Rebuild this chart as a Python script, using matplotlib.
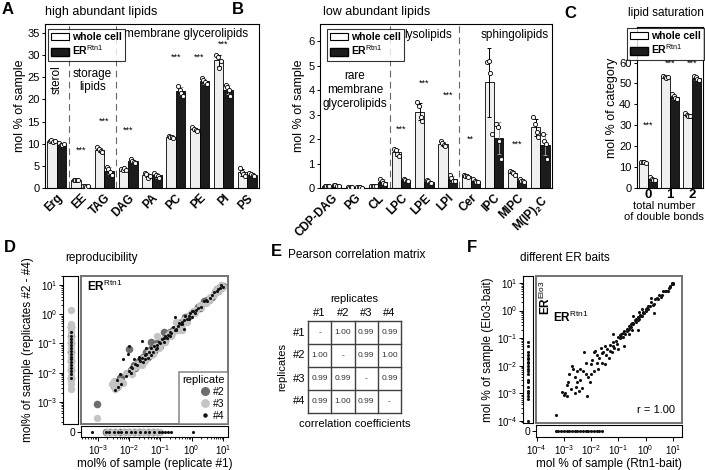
import numpy as np
import matplotlib
matplotlib.use('Agg')
import matplotlib.pyplot as plt
from matplotlib.patches import Patch
from matplotlib.lines import Line2D

plt.rcParams['font.family'] = ['Liberation Sans', 'DejaVu Sans']
plt.rcParams['mathtext.fontset'] = 'custom'
plt.rcParams['mathtext.rm'] = 'Liberation Sans'
plt.rcParams['mathtext.bf'] = 'Liberation Sans:bold'
plt.rcParams['axes.linewidth'] = 0.8
plt.rcParams['xtick.major.width'] = 0.7
plt.rcParams['ytick.major.width'] = 0.7

# ---------------- data ----------------
# A: high abundant lipids (4 replicates each, mol % of sample)
cats_a = ['Erg', 'EE', 'TAG', 'DAG', 'PA', 'PC', 'PE', 'PI', 'PS']
whole_a = [[10.6, 10.8, 10.3, 10.5], [1.9, 1.8, 1.7, 1.8], [9.3, 8.7, 8.3, 8.2],
           [4.3, 4.1, 4.4, 4.0], [3.4, 3.2, 2.2, 2.8], [11.8, 11.6, 11.4, 11.3],
           [13.7, 13.3, 13.0, 12.9], [30.0, 29.5, 27.0, 28.7], [4.5, 3.6, 3.2, 2.8]]
er_a = [[10.2, 9.8, 9.6, 9.9], [0.5, 0.4, 0.3, 0.4], [4.8, 4.2, 3.5, 3.0],
        [6.5, 6.2, 5.8, 5.6], [3.4, 3.0, 2.6, 2.3], [23.0, 22.2, 21.5, 20.8],
        [24.8, 24.3, 23.9, 23.4], [23.2, 22.8, 22.0, 20.8], [3.4, 3.2, 2.9, 2.6]]
stars_a = [(1, 8.5, '***'), (2, 15.0, '***'), (3, 13.0, '***'), (5, 29.5, '***'),
           (6, 29.5, '***'), (7, 32.5, '***')]

# B: low abundant lipids
cats_b = ['CDP-DAG', 'PG', 'CL', 'LPC', 'LPE', 'LPI', 'Cer', 'IPC', 'MIPC', r'M(IP)$_\mathbf{2}$C']
whole_b = [[0.10, 0.08, 0.09, 0.07], [0.03, 0.02, 0.03, 0.03], [0.10, 0.08, 0.07, 0.09],
           [1.6, 1.55, 1.4, 1.3], [3.5, 3.35, 2.9, 2.75], [1.9, 1.85, 1.75, 1.7],
           [0.52, 0.50, 0.48, 0.45], [5.15, 5.2, 4.7, 2.2], [0.70, 0.65, 0.60, 0.55],
           [2.9, 2.6, 2.3, 2.1]]
er_b = [[0.13, 0.11, 0.10, 0.08], [0.04, 0.03, 0.03, 0.02], [0.38, 0.30, 0.20, 0.15],
        [0.35, 0.33, 0.30, 0.30], [0.32, 0.27, 0.22, 0.20], [0.55, 0.40, 0.30, 0.28],
        [0.38, 0.30, 0.25, 0.25], [2.6, 2.5, 1.9, 1.2], [0.35, 0.30, 0.27, 0.25],
        [2.2, 1.9, 1.8, 1.2]]
stars_b = [(3, 2.4, '***'), (4, 4.3, '***'), (5, 3.8, '***'), (6, 2.0, '**'), (8, 1.8, '***')]

# C: lipid saturation
cats_c = ['0', '1', '2']
whole_c = [[12.6, 12.2, 12.5, 12.0], [53.8, 53.2, 52.5, 53.0], [35.8, 35.0, 34.6, 34.5]]
er_c = [[5.2, 4.5, 3.6, 3.8], [45.0, 43.8, 43.0, 42.5], [53.8, 53.0, 52.2, 51.8]]
stars_c = [(0, 30.0, '***'), (1, 59.5, '***'), (2, 59.5, '***')]

# D: reproducibility, log10 values (replicate #1, replicate #n)
rep2 = [(-3.03, -3.08), (-2.5, -2.45), (-2.45, -2.35), (-2.4, -2.5), (-2.35, -2.3), (-2.3, -2.2),
        (-2.25, -2.15), (-2.0, -1.18), (-1.95, -1.9), (-1.85, -1.75), (-1.8, -1.85), (-1.75, -1.7),
        (-1.7, -1.6), (-1.65, -1.7), (-1.6, -1.55), (-1.55, -1.45), (-1.5, -1.45), (-1.45, -1.3),
        (-1.4, -1.45), (-1.35, -1.4), (-1.3, -1.2), (-1.3, -0.95), (-1.25, -1.15), (-1.2, -1.25),
        (-1.15, -1.1), (-1.1, -1.0), (-1.0, -1.1), (-0.95, -0.9), (-0.9, -0.85), (-0.9, -0.6),
        (-0.85, -0.9), (-0.8, -0.75), (-0.7, -0.6), (-0.65, -0.7), (-0.6, -0.55), (-0.5, -0.5),
        (-0.45, -0.4), (-0.4, -0.3), (-0.35, -0.4), (-0.3, -0.25), (-0.2, -0.1), (-0.15, -0.1),
        (-0.1, -0.05), (0.0, 0.05), (0.1, 0.1), (0.2, 0.25), (0.25, 0.2), (0.4, 0.45), (0.5, 0.5),
        (0.55, 0.5), (0.65, 0.6), (0.75, 0.75), (0.8, 0.85), (0.85, 0.8), (0.9, 0.95), (0.95, 0.9),
        (1.0, 0.98)]
rep3 = [(-3.03, -3.54), (-2.55, -2.4), (-2.5, -2.3), (-2.45, -2.55), (-2.35, -2.45), (-2.3, -2.3),
        (-2.2, -2.35), (-2.1, -2.0), (-1.95, -1.95), (-1.9, -2.05), (-1.8, -1.8), (-1.75, -1.7),
        (-1.65, -1.65), (-1.6, -1.75), (-1.55, -1.5), (-1.5, -1.6), (-1.45, -1.5), (-1.35, -1.3),
        (-1.3, -1.4), (-1.25, -1.35), (-1.2, -1.2), (-1.15, -1.1), (-1.1, -0.75), (-1.05, -1.15),
        (-1.0, -1.05), (-0.95, -0.9), (-0.9, -0.85), (-0.85, -0.95), (-0.75, -0.7), (-0.7, -0.65),
        (-0.65, -0.75), (-0.6, -0.6), (-0.55, -0.5), (-0.5, -0.25), (-0.45, -0.55), (-0.4, -0.35),
        (-0.35, -0.4), (-0.3, -0.55), (-0.25, -0.2), (-0.2, -0.15), (-0.15, -0.25), (-0.05, 0.0),
        (0.0, -2.3), (0.05, 0.1), (0.1, 0.05), (0.15, 0.15), (0.25, 0.3), (0.3, 0.25), (0.45, 0.4),
        (0.55, 0.5), (0.6, 0.6), (0.7, 0.65), (0.75, 0.8), (0.8, 0.85), (0.85, 0.8), (0.9, 0.85),
        (0.95, 1.0), (1.0, 0.95)]
rep4 = [(-2.45, -2.6), (-2.4, -2.25), (-2.35, -2.5), (-2.3, -2.05), (-2.25, -2.4), (-2.2, -1.55),
        (-2.1, -2.1), (-2.05, -1.35), (-2.0, -1.95), (-2.0, -1.1), (-1.95, -1.8), (-1.95, -2.0),
        (-1.9, -1.85), (-1.85, -1.55), (-1.8, -1.7), (-1.75, -1.75), (-1.7, -1.45), (-1.7, -1.55),
        (-1.65, -1.6), (-1.6, -1.5), (-1.6, -0.9), (-1.55, -1.65), (-1.5, -1.4), (-1.5, -1.55),
        (-1.45, -1.35), (-1.45, -1.15), (-1.4, -1.5), (-1.35, -1.3), (-1.3, -1.15), (-1.3, -1.4),
        (-1.25, -1.3), (-1.2, -1.1), (-1.15, -1.2), (-1.1, -1.05), (-1.1, -1.15), (-1.05, -0.95),
        (-1.0, -1.0), (-0.95, -0.85), (-0.9, -0.95), (-0.9, -0.8), (-0.85, -0.75), (-0.8, -0.8),
        (-0.75, -0.7), (-0.7, -0.6), (-0.7, -0.75), (-0.65, -0.65), (-0.6, -0.45), (-0.55, -0.55),
        (-0.55, -0.1), (-0.5, -0.5), (-0.5, -0.55), (-0.45, -0.4), (-0.4, -0.3), (-0.35, -0.35),
        (-0.3, -0.25), (-0.3, -0.35), (-0.25, -0.2), (-0.25, -0.5), (-0.2, -0.05), (-0.15, -0.15),
        (-0.1, -0.05), (-0.1, -0.15), (-0.05, 0.05), (0.0, -0.1), (0.0, 0.1), (0.05, 0.1),
        (0.1, 0.05), (0.15, 0.15), (0.2, 0.2), (0.3, 0.25), (0.4, 0.45), (0.45, 0.5), (0.5, 0.45),
        (0.6, 0.55), (0.65, 0.65), (0.7, 0.75), (0.8, 0.8), (0.85, 0.85), (0.9, 0.9), (0.95, 1.0),
        (1.0, 0.95)]
strip2_y = [-0.45, -0.75, -1.0, -1.3, -1.6, -1.9, -2.2]
strip3_y = [0.15, -0.35, -0.45, -0.55, -0.65, -0.8, -0.9, -1.05, -1.2, -1.35, -1.5, -1.65,
            -1.8, -1.95, -2.1, -2.25, -2.4, -2.55]
strip4_y = [-0.6, -0.75, -0.85, -0.95, -1.05, -1.15, -1.25, -1.35, -1.45, -1.55, -1.65,
            -1.75, -1.85, -1.95, -2.05, -2.2]
bstrip2_x = [-2.75, -2.6, -2.45, -2.3, -2.15, -2.0, -1.85, -1.7, -1.55, -1.4, -1.25, -1.1]
bstrip3_x = [-2.7, -2.55, -2.4, -2.2, -2.05, -1.9, -1.75, -1.6, -1.45, -1.3, -1.15, -1.0]
bstrip4_x = [-3.2, -2.75, -2.65, -2.5, -2.35, -2.25, -2.1, -1.95, -1.8, -1.65, -1.5, -1.35,
             -1.2, -1.05, -0.95, -0.85, -0.75, -0.65, 0.05]

# E: Pearson correlation matrix
rep_labels = ['#1', '#2', '#3', '#4']
corr = [['-', '1.00', '0.99', '0.99'],
        ['1.00', '-', '0.99', '1.00'],
        ['0.99', '0.99', '-', '0.99'],
        ['0.99', '1.00', '0.99', '-']]

# F: different ER baits, log10 values (Rtn1-bait, Elo3-bait)
baits = [(-3.3, -3.78), (-3.05, -2.95), (-3.0, -3.05), (-2.95, -3.0), (-2.9, -3.1), (-2.9, -2.7),
         (-2.85, -2.6), (-2.8, -2.3), (-2.75, -2.85), (-2.7, -2.0), (-2.65, -2.1), (-2.6, -3.0),
         (-2.6, -2.4), (-2.55, -2.75), (-2.5, -2.6), (-2.5, -2.2), (-2.45, -2.9), (-2.4, -2.5),
         (-2.4, -2.1), (-2.35, -2.8), (-2.3, -2.2), (-2.25, -1.5), (-2.2, -2.3), (-2.2, -1.9),
         (-2.15, -3.1), (-2.1, -2.4), (-2.05, -2.6), (-2.0, -1.95), (-2.0, -2.3), (-1.95, -1.8),
         (-1.9, -2.2), (-1.9, -1.5), (-1.85, -1.45), (-1.8, -1.9), (-1.8, -1.6), (-1.75, -2.1),
         (-1.7, -1.7), (-1.65, -1.35), (-1.6, -1.9), (-1.6, -1.55), (-1.55, -1.5), (-1.5, -1.95),
         (-1.5, -1.3), (-1.45, -1.6), (-1.4, -1.4), (-1.35, -1.7), (-1.3, -1.25), (-1.3, -1.45),
         (-1.25, -1.5), (-1.2, -1.15), (-1.2, -1.3), (-1.2, -0.85), (-1.15, -1.35), (-1.1, -1.1),
         (-1.05, -1.2), (-1.0, -0.95), (-1.0, -1.4), (-0.95, -1.0), (-0.95, -0.9), (-0.9, -0.85),
         (-0.9, -0.95), (-0.85, -0.95), (-0.85, -0.8), (-0.8, -0.75), (-0.8, -1.3), (-0.75, -0.85),
         (-0.7, -0.65), (-0.7, -0.75), (-0.65, -0.7), (-0.6, -0.55), (-0.6, -0.65), (-0.6, -0.85),
         (-0.55, -0.6), (-0.55, -0.5), (-0.5, -0.45), (-0.5, -0.7), (-0.45, -0.5), (-0.45, -0.45),
         (-0.45, -0.2), (-0.4, -0.35), (-0.35, -0.4), (-0.35, -0.3), (-0.3, -0.25), (-0.3, -0.35),
         (-0.3, -0.7), (-0.25, -0.3), (-0.25, -0.05), (-0.2, -0.15), (-0.2, -0.2), (-0.15, -0.2),
         (-0.15, 0.05), (-0.1, -0.05), (-0.1, -0.1), (-0.05, -0.1), (0.0, 0.0), (0.0, 0.05),
         (0.05, 0.1), (0.1, 0.05), (0.1, 0.15), (0.15, 0.15), (0.2, 0.3), (0.2, 0.45), (0.25, 0.2),
         (0.3, 0.25), (0.3, -0.1), (0.35, 0.4), (0.4, 0.45), (0.45, 0.4), (0.5, 0.55), (0.55, 0.5),
         (0.6, 0.55), (0.65, 0.7), (0.7, 0.7), (0.75, 0.7), (0.8, 0.7), (0.85, 0.8), (0.9, 0.9),
         (0.9, 0.85), (0.95, 0.95), (0.95, 1.0), (1.0, 1.0), (1.0, 0.95)]
fstrip_y = [-1.15, -1.3, -1.5, -1.6, -1.7, -1.75, -1.85, -1.9, -2.0, -2.1, -2.2, -2.3, -2.5,
            -2.6, -2.75, -2.9, -3.0, -3.1, -3.2, -4.0]
fbstrip_x = [-3.3, -3.2, -3.1, -3.0, -2.9, -2.8, -2.7, -2.6, -2.5, -2.4, -2.3, -2.2, -2.1,
             -2.0, -1.9, -1.8, -1.7, -1.6]

# ---------------- figure ----------------
W, H = 705, 470
fig = plt.figure(figsize=(W / 100, H / 100), dpi=100)


def px_axes(x0, y0, x1, y1):
    return fig.add_axes([x0 / W, 1 - y1 / H, (x1 - x0) / W, (y1 - y0) / H])


def ftext(x, y, s, **kw):
    fig.text(x / W, 1 - y / H, s, **kw)


ER_RTN = r'ER$^{\mathrm{Rtn1}}$'
WHOLE_C = '#efefef'
ER_C = '#1c1c1c'
TITLE_FS = 8.5
LAB_FS = 8.5


def bar_panel(ax, cats, whole, er, stars):
    whole = np.array(whole)
    er = np.array(er)
    pos = np.arange(len(cats))
    ax.bar(pos - 0.2, whole.mean(1), 0.4, color=WHOLE_C, edgecolor='k', lw=0.6,
           yerr=whole.std(1, ddof=1), error_kw=dict(ecolor='k', elinewidth=0.7, capsize=1.5, capthick=0.7))
    ax.bar(pos + 0.2, er.mean(1), 0.4, color=ER_C, edgecolor='k', lw=0.6,
           yerr=er.std(1, ddof=1), error_kw=dict(ecolor='0.6', elinewidth=0.7, capsize=1.5, capthick=0.7))
    jit = np.array([-0.1, -0.035, 0.035, 0.1])
    for i in range(len(cats)):
        ax.scatter(pos[i] - 0.2 + jit, whole[i], s=9, facecolor='white', edgecolor='k', lw=0.6, zorder=3)
        ax.scatter(pos[i] + 0.2 + jit, er[i], s=9, facecolor='white', edgecolor='k', lw=0.6, zorder=3)
    for i, y, s in stars:
        ax.text(i, y, s, ha='center', va='center', fontsize=6.5)
    ax.set_xlim(-0.5, len(cats) - 0.5)
    ax.set_xticks(pos)
    ax.set_xticklabels(cats, rotation=45, ha='right', rotation_mode='anchor',
                       fontweight='bold', fontsize=8.5)
    ax.tick_params(axis='x', length=0, pad=3)
    ax.tick_params(axis='y', length=2.5, labelsize=8, pad=1.5)


def bar_legend(ax, x, y):
    handles = [Patch(facecolor='white', edgecolor='k', lw=0.8), Patch(facecolor=ER_C, edgecolor='k')]
    leg = ax.legend(handles, ['whole cell', ER_RTN], loc='upper left',
                    bbox_to_anchor=(x / W, 1 - y / H), bbox_transform=fig.transFigure,
                    prop=dict(weight='bold', size=7.5), fancybox=False, edgecolor='k',
                    borderpad=0.3, handlelength=1.7, handleheight=0.75, labelspacing=0.15,
                    handletextpad=0.3, borderaxespad=0)
    leg.get_frame().set_linewidth(0.8)


# --- A ---
axA = px_axes(45, 24, 259, 188)
bar_panel(axA, cats_a, whole_a, er_a, stars_a)
axA.set_ylim(0, 37)
axA.set_yticks(range(0, 36, 5))
axA.set_ylabel('mol % of sample', fontsize=LAB_FS + 0.5, labelpad=1)
for xd in (0.5, 2.5):
    axA.axvline(xd, color='0.4', lw=0.8, ls=(0, (6, 4)))
axA.text(0.0, 24.4, 'sterol', rotation=90, ha='center', va='center', fontsize=LAB_FS)
axA.text(1.5, 24.3, 'storage\nlipids', ha='center', va='center', fontsize=LAB_FS, linespacing=1.1)
axA.text(5.45, 34.8, 'membrane glycerolipids', ha='center', va='center', fontsize=LAB_FS)
bar_legend(axA, 48, 29)
ftext(45, 12, 'high abundant lipids', fontsize=TITLE_FS + 0.5, va='center')
ftext(2, 10, 'A', fontsize=12, fontweight='bold', va='center')

# --- B ---
axB = px_axes(320, 24, 552, 188)
bar_panel(axB, cats_b, whole_b, er_b, stars_b)
axB.set_ylim(0, 6.7)
axB.set_yticks(range(0, 7))
axB.set_ylabel('mol % of sample', fontsize=LAB_FS + 0.5, labelpad=2)
for xd in (2.5, 5.5):
    axB.axvline(xd, color='0.4', lw=0.8, ls=(0, (6, 4)))
axB.text(1.0, 4.0, 'rare\nmembrane\nglycerolipids', ha='center', va='center', fontsize=LAB_FS,
         linespacing=1.25)
axB.text(4.15, 6.27, 'lysolipids', ha='center', va='center', fontsize=LAB_FS)
axB.text(7.9, 6.27, 'sphingolipids', ha='center', va='center', fontsize=LAB_FS)
bar_legend(axB, 327, 29)
ftext(323, 12, 'low abundant lipids', fontsize=TITLE_FS + 0.5, va='center')
ftext(232, 10, 'B', fontsize=12, fontweight='bold', va='center')

# --- C ---
axC = px_axes(637, 27, 703, 188)
bar_panel(axC, cats_c, whole_c, er_c, stars_c)
axC.set_xticklabels(cats_c, rotation=0, ha='center', fontweight='bold', fontsize=9.5)
axC.tick_params(axis='x', pad=0.5)
axC.set_ylim(0, 77)
axC.set_yticks(range(0, 61, 10))
axC.set_ylabel('mol % of category', fontsize=LAB_FS + 0.5, labelpad=1)
ftext(664, 201, 'total number\nof double bonds', fontsize=8, ha='center', va='top',
      linespacing=1.1)
bar_legend(axC, 627, 28)
ftext(628, 13, 'lipid saturation', fontsize=TITLE_FS, va='center')
ftext(564, 14, 'C', fontsize=12, fontweight='bold', va='center')


# --- scatter panels ---
def log_panel(main_box, left_box, bot_box, xl, yl, ticks):
    axm = px_axes(*main_box)
    axl = px_axes(*left_box)
    axb = px_axes(*bot_box)
    axm.set_xscale('log')
    axm.set_yscale('log')
    axm.set_xlim(10 ** xl[0], 10 ** xl[1])
    axm.set_ylim(10 ** yl[0], 10 ** yl[1])
    axm.set_xticks([])
    axm.set_yticks([])
    axm.minorticks_off()
    for sp in axm.spines.values():
        sp.set_color('0.45')
        sp.set_linewidth(1.4)
    axl.set_yscale('log')
    axl.set_ylim(10 ** yl[0], 10 ** yl[1])
    axl.set_xlim(-1, 1)
    axl.set_xticks([])
    axl.set_yticks([10.0 ** t for t in ticks])
    axl.tick_params(axis='y', which='major', length=3, labelsize=7, pad=1)
    axl.tick_params(axis='y', which='minor', length=1.5)
    axb.set_xscale('log')
    axb.set_xlim(10 ** xl[0], 10 ** xl[1])
    axb.set_ylim(-1, 1)
    axb.set_yticks([0])
    axb.set_yticklabels(['0'])
    axb.set_xticks([10.0 ** t for t in ticks])
    axb.tick_params(axis='x', which='major', length=3, labelsize=7, pad=1.5)
    axb.tick_params(axis='x', which='minor', length=1.5)
    axb.tick_params(axis='y', length=3, labelsize=7.5, pad=1)
    return axm, axl, axb


def pts(pairs):
    a = np.array(pairs)
    return 10 ** a[:, 0], 10 ** a[:, 1]


# --- D ---
axDm, axDl, axDb = log_panel((81, 276, 228, 424), (63, 276, 78, 424), (81, 426, 228, 437),
                             (-3.54, 1.16), (-3.76, 1.31), [-3, -2, -1, 0, 1])
styles = [(rep2, strip2_y, bstrip2_x, '#6e6e6e', 30), (rep3, strip3_y, bstrip3_x, '#c4c4c4', 28),
          (rep4, strip4_y, bstrip4_x, '#111111', 5)]
for pairs, sy, bx, col, sz in styles:
    x, y = pts(pairs)
    axDm.scatter(x, y, s=sz, color=col, lw=0)
    axDl.scatter(np.zeros(len(sy)), 10 ** np.array(sy), s=sz, color=col, lw=0)
    axDb.scatter(10 ** np.array(bx), np.zeros(len(bx)), s=sz, color=col, lw=0)
axDm.text(0.04, 0.93, ER_RTN, transform=axDm.transAxes, fontsize=8.5, fontweight='bold', va='center')
dh = [Line2D([], [], marker='o', ls='', color='#6e6e6e', ms=5.5),
      Line2D([], [], marker='o', ls='', color='#c4c4c4', ms=5.3),
      Line2D([], [], marker='o', ls='', color='#111111', ms=2.2)]
legD = axDm.legend(dh, ['#2', '#3', '#4'], title='replicate', loc='lower right', fontsize=7.5,
                   title_fontsize=8, fancybox=False, edgecolor='0.45', borderaxespad=0,
                   handlelength=1.0, handletextpad=0.3, labelspacing=0.2, borderpad=0.3)
legD.get_frame().set_linewidth(1.2)
legD._legend_box.align = 'right'
axDl.set_ylabel('mol% of sample (replicates #2 - #4)', fontsize=LAB_FS, labelpad=2)
axDb.set_xlabel('mol% of sample (replicate #1)', fontsize=LAB_FS, labelpad=1)
ftext(65, 258, 'reproducibility', fontsize=TITLE_FS, va='center')
ftext(4, 248, 'D', fontsize=12, fontweight='bold', va='center')

# --- E ---
axE = px_axes(308, 321, 401, 413)
axE.set_xlim(0, 4)
axE.set_ylim(4, 0)
axE.axis('off')
for k in range(5):
    axE.plot([k, k], [0, 4], color='0.25', lw=1.0, clip_on=False)
    axE.plot([0, 4], [k, k], color='0.25', lw=1.0, clip_on=False)
for r in range(4):
    for c in range(4):
        axE.text(c + 0.5, r + 0.5, corr[r][c], ha='center', va='center', fontsize=6, color='0.2')
    axE.text(-0.1, r + 0.5, rep_labels[r], ha='right', va='center', fontsize=8)
    axE.text(r + 0.5, -0.15, rep_labels[r], ha='center', va='bottom', fontsize=8)
axE.text(2, -0.75, 'replicates', ha='center', va='bottom', fontsize=8)
axE.text(-1.1, 2, 'replicates', ha='center', va='center', rotation=90, fontsize=8)
axE.text(2, 4.25, 'correlation coefficients', ha='center', va='top', fontsize=8)
ftext(288, 255, 'Pearson correlation matrix', fontsize=TITLE_FS, va='center')
ftext(271, 252, 'E', fontsize=12, fontweight='bold', va='center')

# --- F ---
axFm, axFl, axFb = log_panel((536, 276, 682, 423), (523, 276, 533, 423), (536, 425, 682, 437),
                             (-4.02, 1.33), (-4.07, 1.25), [-4, -3, -2, -1, 0, 1])
x, y = pts(baits)
axFm.scatter(x, y, s=5, color='#111111', lw=0)
axFl.scatter(np.zeros(len(fstrip_y)), 10 ** np.array(fstrip_y), s=5, color='#111111', lw=0)
axFb.scatter(10 ** np.array(fbstrip_x), np.zeros(len(fbstrip_x)), s=5, color='#111111', lw=0)
axFm.text(0.065, 0.85, r'ER$^{\mathrm{Elo3}}$', transform=axFm.transAxes, rotation=90,
          fontsize=8.5, fontweight='bold', ha='center', va='center')
axFm.text(0.115, 0.72, ER_RTN, transform=axFm.transAxes, fontsize=8.5, fontweight='bold', va='center')
axFm.text(0.95, 0.09, 'r = 1.00', transform=axFm.transAxes, fontsize=8, ha='right', va='center')
axFl.set_ylabel('mol % of sample (Elo3-bait)', fontsize=LAB_FS, labelpad=2)
axFb.set_xlabel('mol % of sample (Rtn1-bait)', fontsize=LAB_FS, labelpad=1)
ftext(520, 258, 'different ER baits', fontsize=TITLE_FS, va='center')
ftext(467, 248, 'F', fontsize=12, fontweight='bold', va='center')

fig.savefig('out.png', dpi=100)
